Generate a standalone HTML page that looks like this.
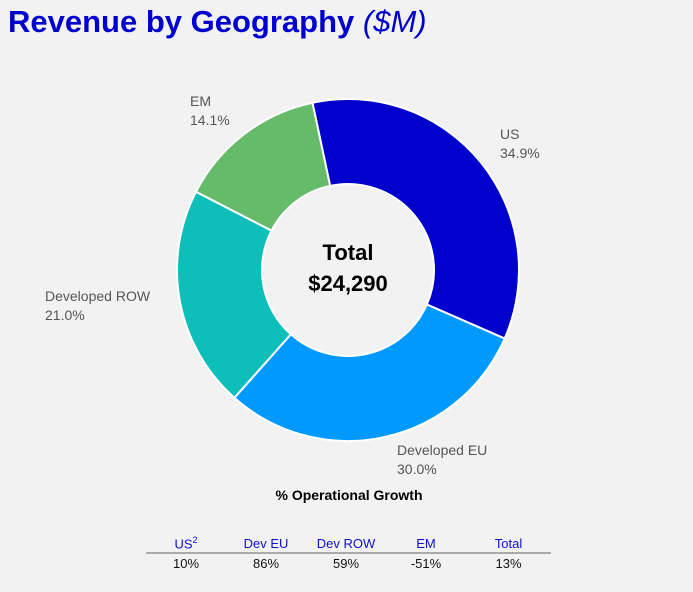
<!DOCTYPE html>
<html><head><meta charset="utf-8"><style>
body{margin:0;width:693px;height:592px;background:#f2f2f2;font-family:"Liberation Sans",sans-serif;position:relative;overflow:hidden}
#title{position:absolute;left:8px;top:4px;font-size:31px;font-weight:bold;color:#0000cc;white-space:nowrap}
#title i{font-weight:normal}
svg{position:absolute;left:0;top:0}
.lbl{font-size:14px;fill:#555}
table{position:absolute;left:146px;top:535px;border-collapse:collapse;font-size:13px}
th{color:#1010cc;font-weight:normal;padding:0;height:17px;border-bottom:2px solid #aaa}
td{text-align:center;padding:0;height:18px;color:#111}
</style></head><body>
<div id="title">Revenue by Geography <i>($M)</i></div>
<svg id="chart" width="693" height="592"></svg>
<table>
<tr><th style="width:80px">US<sup style="font-size:9px">2</sup></th><th style="width:80px">Dev EU</th><th style="width:80px">Dev ROW</th><th style="width:80px">EM</th><th style="width:85px">Total</th></tr>
<tr><td>10%</td><td>86%</td><td>59%</td><td>-51%</td><td>13%</td></tr>
</table>
<script>
const categories=["US","Developed EU","Developed ROW","EM"];
const shares=[34.9,30.0,21.0,14.1];
const colors=["#0000cc","#0099ff","#0dbfb8","#66bb6a"];
const svg=document.getElementById('chart');
const NS='http://www.w3.org/2000/svg';
const cx=348,cy=270,R=171,r=86,start=-12;
const total=shares.reduce((a,b)=>a+b,0);
function pt(a,rad){const t=(a-90)*Math.PI/180;return[cx+rad*Math.cos(t),cy+rad*Math.sin(t)];}
const labelPos=[[500,139,'start'],[397,455,'start'],[45,301,'start'],[190,106,'start']];
let a=start;
shares.forEach((v,i)=>{
 const sw=v/total*360,b=a+sw,lg=sw>180?1:0;
 const [x1,y1]=pt(a,R),[x2,y2]=pt(b,R),[x3,y3]=pt(b,r),[x4,y4]=pt(a,r);
 const p=document.createElementNS(NS,'path');
 p.setAttribute('d',`M${x1},${y1}A${R},${R} 0 ${lg} 1 ${x2},${y2}L${x3},${y3}A${r},${r} 0 ${lg} 0 ${x4},${y4}Z`);
 p.setAttribute('fill',colors[i]);p.setAttribute('stroke','#fff');p.setAttribute('stroke-width','2');
 
 
 svg.appendChild(p);
 const t=document.createElementNS(NS,'text');
 t.setAttribute('class','lbl');t.setAttribute('x',labelPos[i][0]);t.setAttribute('y',labelPos[i][1]);
 
 
 t.innerHTML=`<tspan>${categories[i]}</tspan><tspan x="${labelPos[i][0]}" dy="19">${v.toFixed(1)}%</tspan>`;
 svg.appendChild(t);
 a=b;
});
const c=document.createElementNS(NS,'text');
c.setAttribute('x',cx);c.setAttribute('y',260);c.setAttribute('text-anchor','middle');
c.setAttribute('font-size','22');c.setAttribute('font-weight','bold');


c.innerHTML='<tspan>Total</tspan><tspan x="348" dy="31">$24,290</tspan>';
svg.appendChild(c);
const g=document.createElementNS(NS,'text');
g.setAttribute('x',349);g.setAttribute('y',500);g.setAttribute('text-anchor','middle');
g.setAttribute('font-size','14');g.setAttribute('font-weight','bold');


g.textContent='% Operational Growth';
svg.appendChild(g);
</script>
</body></html>
